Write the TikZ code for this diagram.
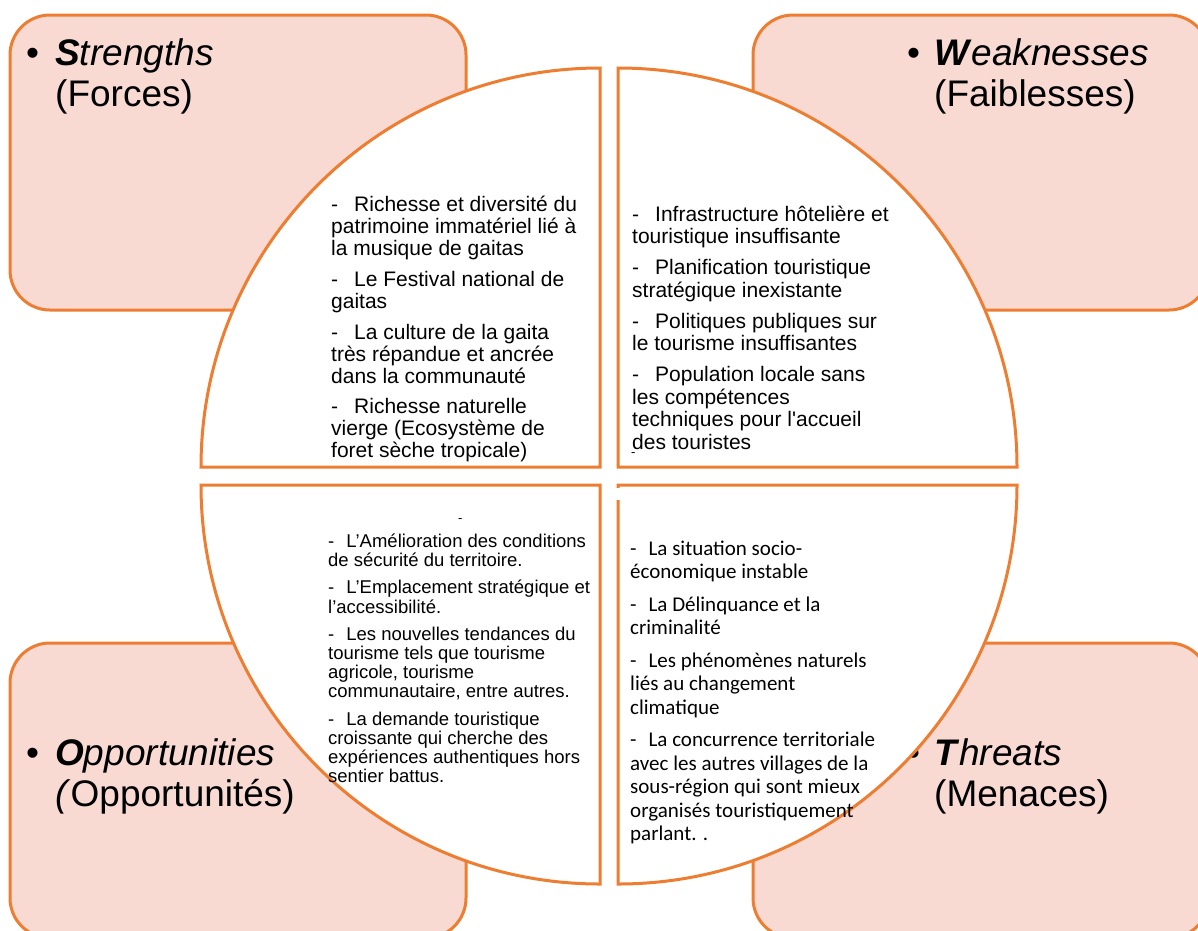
\documentclass[tikz,border=0pt]{standalone}
\usepackage{fontspec}
\setmainfont{Liberation Sans}
\newfontfamily\carlitofont{Carlito}
\definecolor{swotorange}{HTML}{ED7D31}
\definecolor{swotfill}{HTML}{F8DAD2}
\newcommand{\swotlines}[1]{\begin{tabular}[t]{@{}l@{}}#1\end{tabular}}
\begin{document}
\begin{tikzpicture}[x=1pt,y=-1pt,
  box/.style={draw=swotorange,line width=3pt,fill=swotfill,rounded corners=40pt},
  wedge/.style={draw=swotorange,line width=3pt,fill=white,line join=miter},
  titletext/.style={anchor=base west,inner sep=0pt,font=\fontsize{37}{41}\selectfont},
  bodyA/.style={anchor=base west,inner sep=0pt,font=\fontsize{21}{22}\selectfont},
  bodyB/.style={anchor=base west,inner sep=0pt,font=\fontsize{21}{22.5}\selectfont},
  bodyC/.style={anchor=base west,inner sep=0pt,font=\fontsize{18.5}{18.7}\selectfont},
  bodyD/.style={anchor=base west,inner sep=0pt,font=\carlitofont\fontsize{21}{23.5}\selectfont},
  straydash/.style={anchor=base west,inner sep=0pt,font=\fontsize{13}{13}\selectfont}
]
\useasboundingbox (0,0) rectangle (1198,930);
\clip (0,0) rectangle (1198,930);

% background boxes
\path[box] (10,15) rectangle (466,310);
\path[box] (753,15) rectangle (1209,310);
\path[box] (10,643) rectangle (466,938);
\path[box] (753,643) rectangle (1209,938);

% titles
\node[titletext] (sBullet) at (26,65) {•};
\node[titletext] (sTitle) at (55,65) {\swotlines{\textbf{\textit{S}}\textit{trengths}\\(Forces)}};
\node[titletext] (wBullet) at (907,65) {•};
\node[titletext] (wTitle) at (934,65) {\swotlines{\textbf{\textit{W}}\textit{eaknesses}\\(Faiblesses)}};
\node[titletext] (oBullet) at (26,765) {•};
\node[titletext] (oTitle) at (55,765) {\swotlines{\textbf{\textit{O}}\textit{pportunities}\\\textit{(}Opportunités)}};
\node[titletext] (tBullet) at (907,765) {•};
\node[titletext] (tTitle) at (934,765) {\swotlines{\textbf{\textit{T}}\textit{hreats}\\(Menaces)}};

% wedges
\path[wedge] (600,467) -- (600,68) arc[start angle=270,end angle=180,radius=399] -- cycle;
\path[wedge] (618,467) -- (618,68) arc[start angle=270,end angle=360,radius=399] -- cycle;
\path[wedge] (600,485) -- (201,485) arc[start angle=180,end angle=90,radius=399] -- cycle;
\path[wedge] (618,485) -- (1017,485) arc[start angle=0,end angle=90,radius=399] -- cycle;
\fill[white] (603,488) rectangle (620,500);

% body texts
\node[bodyA] (sText) at (331,211) {\swotlines{%
-\hspace{16pt}Richesse et diversité du\\
patrimoine immatériel lié à\\
la musique de gaitas\\[9pt]
-\hspace{16pt}Le Festival national de\\
gaitas\\[9pt]
-\hspace{16pt}La culture de la gaita\\
très répandue et ancrée\\
dans la communauté\\[8pt]
-\hspace{16pt}Richesse naturelle\\
vierge (Ecosystème de\\
foret sèche tropicale)}};

\node[bodyB] (wText) at (632,221) {\swotlines{%
-\hspace{16pt}Infrastructure hôtelière et\\
touristique insuffisante\\[8.5pt]
-\hspace{16pt}Planification touristique\\
stratégique inexistante\\[8.5pt]
-\hspace{16pt}Politiques publiques sur\\
le tourisme insuffisantes\\[8.5pt]
-\hspace{16pt}Population locale sans\\
les compétences\\
techniques pour l\textquotesingle accueil\\
des touristes}};
\node[straydash] (wDash) at (631,456) {-};

\node[straydash] (oDash) at (458,522) {-};
\node[bodyC] (oText) at (328,547) {\swotlines{%
-\hspace{12pt}L’Amélioration des conditions\\
de sécurité du territoire.\\[8.5pt]
-\hspace{12pt}L’Emplacement stratégique et\\
l’accessibilité.\\[8.5pt]
-\hspace{12pt}Les nouvelles tendances du\\
tourisme tels que tourisme\\
agricole, tourisme\\
communautaire, entre autres.\\[8.5pt]
-\hspace{12pt}La demande touristique\\
croissante qui cherche des\\
expériences authentiques hors\\
sentier battus.}};

\node[bodyD] (tText) at (630,555) {\swotlines{%
-\hspace{12pt}La situation socio-\\
économique instable\\[9pt]
-\hspace{12pt}La Délinquance et la\\
criminalité\\[9pt]
-\hspace{12pt}Les phénomènes naturels\\
liés au changement\\
climatique\\[9pt]
-\hspace{12pt}La concurrence territoriale\\
avec les autres villages de la\\
sous-région qui sont mieux\\
organisés touristiquement\\
parlant. .}};
\end{tikzpicture}
\end{document}
